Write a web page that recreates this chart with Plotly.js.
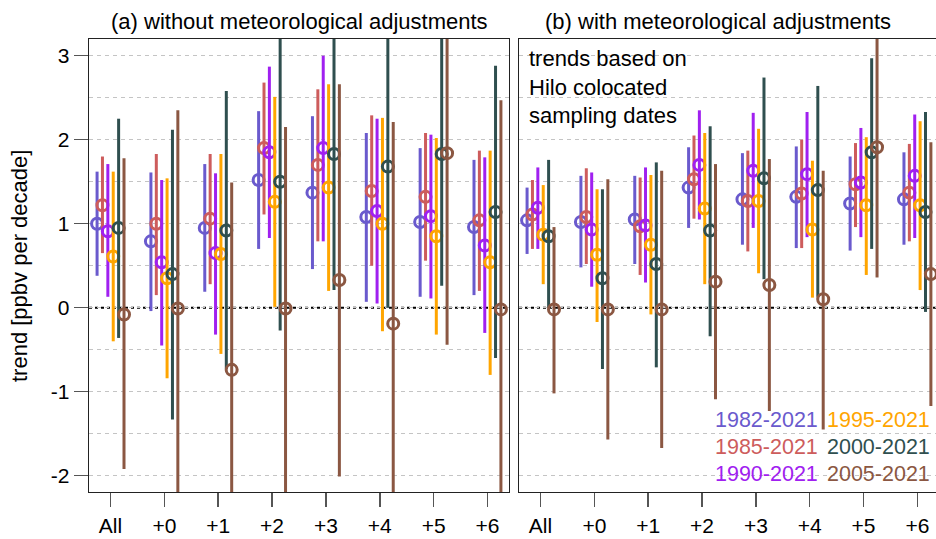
<!DOCTYPE html>
<html><head><meta charset="utf-8">
<script src="https://cdn.plot.ly/plotly-3.0.1.min.js"></script>
<style>html,body{margin:0;padding:0;background:#fff}#chart{width:936px;height:539px}</style>
</head><body><div id="chart"></div>
<script>
// ---------- data ----------
const groups = ['All', '+0', '+1', '+2', '+3', '+4', '+5', '+6'];
const periods = ['1982-2021', '1985-2021', '1990-2021', '1995-2021', '2000-2021', '2005-2021'];

// (a) without meteorological adjustments: trend, lower, upper
const a1982 = [1.00, 0.79, 0.95, 1.52, 1.37, 1.08, 1.02, 0.96];
const a1982Lo = [0.38, -0.04, 0.19, 0.70, 0.46, 0.07, 0.13, 0.15];
const a1982Hi = [1.62, 1.61, 1.71, 2.34, 2.28, 2.08, 1.90, 1.76];
const a1985 = [1.22, 1.00, 1.06, 1.90, 1.70, 1.39, 1.32, 1.04];
const a1985Lo = [0.65, 0.15, 0.28, 1.11, 0.79, 0.50, 0.56, 0.20];
const a1985Hi = [1.80, 1.83, 1.83, 2.68, 2.60, 2.29, 2.08, 1.87];
const a1990 = [0.91, 0.54, 0.65, 1.85, 1.90, 1.15, 1.09, 0.74];
const a1990Lo = [0.13, -0.45, -0.32, 0.83, 0.79, 0.05, 0.11, -0.30];
const a1990Hi = [1.71, 1.52, 1.60, 2.87, 3.00, 2.25, 2.06, 1.79];
const a1995 = [0.61, 0.35, 0.64, 1.26, 1.43, 1.00, 0.85, 0.54];
const a1995Lo = [-0.40, -0.84, -0.55, 0.01, 0.20, -0.28, -0.32, -0.80];
const a1995Hi = [1.62, 1.54, 1.83, 2.51, 2.66, 2.26, 2.02, 1.87];
const a2000 = [0.95, 0.40, 0.92, 1.50, 1.83, 1.68, 1.83, 1.14];
const a2000Lo = [-0.36, -1.33, -0.73, -0.27, 0.21, 0.00, 0.26, -0.60];
const a2000Hi = [2.25, 2.12, 2.58, 3.40, 3.45, 3.35, 3.40, 2.88];
const a2005 = [-0.08, -0.01, -0.74, -0.01, 0.33, -0.19, 1.84, -0.02];
const a2005Lo = [-1.92, -2.40, -2.40, -2.40, -2.01, -2.40, -0.44, -2.40];
const a2005Hi = [1.78, 2.35, 1.49, 2.15, 2.66, 2.21, 3.40, 2.47];

// (b) with meteorological adjustments: trend, lower, upper
const b1982 = [1.04, 1.02, 1.05, 1.43, 1.29, 1.32, 1.24, 1.29];
const b1982Lo = [0.64, 0.48, 0.52, 0.95, 0.75, 0.71, 0.68, 0.75];
const b1982Hi = [1.43, 1.57, 1.57, 1.91, 1.84, 1.92, 1.80, 1.85];
const b1985 = [1.11, 1.08, 0.97, 1.53, 1.27, 1.36, 1.47, 1.37];
const b1985Lo = [0.70, 0.52, 0.39, 1.06, 0.67, 0.71, 0.96, 0.79];
const b1985Hi = [1.52, 1.66, 1.55, 2.05, 1.87, 2.00, 1.96, 1.95];
const b1990 = [1.19, 0.93, 0.98, 1.70, 1.63, 1.59, 1.49, 1.57];
const b1990Lo = [0.70, 0.25, 0.30, 1.05, 0.95, 0.84, 0.84, 0.83];
const b1990Hi = [1.67, 1.61, 1.67, 2.35, 2.32, 2.33, 2.14, 2.30];
const b1995 = [0.87, 0.63, 0.75, 1.18, 1.27, 0.93, 1.22, 1.22];
const b1995Lo = [0.28, -0.17, -0.08, 0.28, 0.41, 0.12, 0.39, 0.21];
const b1995Hi = [1.46, 1.41, 1.58, 2.08, 2.13, 1.75, 2.03, 2.22];
const b2000 = [0.85, 0.35, 0.52, 0.92, 1.54, 1.40, 1.85, 1.14];
const b2000Lo = [0.00, -0.73, -0.71, -0.34, 0.34, 0.13, 0.70, -0.05];
const b2000Hi = [1.76, 1.41, 1.73, 2.16, 2.74, 2.64, 2.97, 2.33];
const b2005 = [-0.02, -0.02, -0.02, 0.31, 0.27, 0.10, 1.91, 0.40];
const b2005Lo = [-1.02, -1.57, -1.67, -1.09, -1.23, -1.45, 0.36, -1.17];
const b2005Hi = [0.96, 1.53, 1.63, 1.71, 1.77, 1.63, 3.40, 1.97];

const yTickVals = [-2, -1, 0, 1, 2, 3];
const yTickText = ['-2', '-1', '0', '1', '2', '3'];

// ---------- style ----------
const colors = ['#6A5ACD', '#CD5C5C', '#A020F0', '#FFA500', '#2F4F4F', '#8B5742'];
const offsets = [-0.25, -0.15, -0.05, 0.05, 0.15, 0.25];
const FONT = 'Liberation Sans, Arial, Helvetica, sans-serif';

const panelA = [[a1982, a1982Lo, a1982Hi], [a1985, a1985Lo, a1985Hi], [a1990, a1990Lo, a1990Hi],
                [a1995, a1995Lo, a1995Hi], [a2000, a2000Lo, a2000Hi], [a2005, a2005Lo, a2005Hi]];
const panelB = [[b1982, b1982Lo, b1982Hi], [b1985, b1985Lo, b1985Hi], [b1990, b1990Lo, b1990Hi],
                [b1995, b1995Lo, b1995Hi], [b2000, b2000Lo, b2000Hi], [b2005, b2005Lo, b2005Hi]];

const traces = [];
function addPanel(panel, xa, ya) {
  panel.forEach(([c, lo, hi], s) => {
    traces.push({
      type: 'scatter', mode: 'markers', xaxis: xa, yaxis: ya,
      name: periods[s], showlegend: false,
      x: c.map((_, i) => i + offsets[s]),
      y: c,
      error_y: {type: 'data', symmetric: false,
        array: c.map((v, i) => hi[i] - v),
        arrayminus: c.map((v, i) => v - lo[i]),
        width: 0, thickness: 3, color: colors[s]},
      marker: {symbol: 'circle-open', size: 11, color: colors[s], line: {width: 3, color: colors[s]}}
    });
  });
}
addPanel(panelA, 'x', 'y');
addPanel(panelB, 'x2', 'y2');

const W = 936, H = 539, MT = 39, MB = 47;
const PH = H - MT - MB;
// pixel -> paper coordinates (paper spans the plotting area; l = r = 0)
const px = v => v / W, py = v => (H - MB - v) / PH;

const yRange = [-2.194, 3.199];
const GRID = '#c4c4c4';
const gridCommon = {
  range: yRange, showgrid: true, gridcolor: GRID, gridwidth: 1.5, griddash: '4px,4px',
  zeroline: false, tickmode: 'array', tickvals: yTickVals,
  minor: {dtick: 0.5, tick0: 0, showgrid: true, gridcolor: GRID, gridwidth: 1.5, griddash: '4px,4px', ticks: ''},
  automargin: false, showline: true, linecolor: '#222', linewidth: 1.3
};
const xCommon = {
  tickmode: 'array', tickvals: groups.map((_, i) => i), ticktext: groups,
  ticks: 'outside', ticklen: 14, tickwidth: 1.5, tickcolor: '#555',
  showgrid: false, zeroline: false, showline: true, mirror: true,
  linecolor: '#222', linewidth: 1.3, automargin: false,
  tickfont: {family: FONT, size: 21, color: '#000'}
};

const annFont = (size, color) => ({family: FONT, size: size, color: color || '#000'});
const annotations = [
  {text: '(a) without meteorological adjustments', xref: 'paper', yref: 'paper',
   x: px(299), y: py(21), xanchor: 'center', yanchor: 'middle', showarrow: false, font: annFont(22)},
  {text: '(b) with meteorological adjustments', xref: 'paper', yref: 'paper',
   x: px(718), y: py(21), xanchor: 'center', yanchor: 'middle', showarrow: false, font: annFont(22)},
  {text: 'trend [ppbv per decade]', xref: 'paper', yref: 'paper', textangle: -90,
   x: px(19), y: py(266), xanchor: 'center', yanchor: 'middle', showarrow: false, font: annFont(22)},
  {text: 'trends based on<br>Hilo colocated<br>sampling dates', xref: 'paper', yref: 'paper',
   x: px(527), y: py(44), xanchor: 'left', yanchor: 'top', align: 'left', showarrow: false, font: annFont(22)}
];
const legPos = [[713, 420], [713, 447], [713, 474], [825, 420], [825, 447], [825, 474]];
periods.forEach((p, s) => {
  annotations.push({text: p, xref: 'paper', yref: 'paper', x: px(legPos[s][0]), y: py(legPos[s][1]),
    xanchor: 'left', yanchor: 'middle', showarrow: false, font: annFont(21.5, colors[s])});
});

const layout = {
  width: W, height: H, margin: {l: 0, r: 0, t: MT, b: MB},
  paper_bgcolor: '#fff', plot_bgcolor: '#fff', showlegend: false,
  font: {family: FONT, size: 20, color: '#000'},
  xaxis: Object.assign({}, xCommon, {domain: [px(89), px(509)], range: [-0.4, 7.4], anchor: 'y'}),
  xaxis2: Object.assign({}, xCommon, {domain: [px(519), 1], range: [-0.4, 7.345], anchor: 'y2'}),
  yaxis: Object.assign({}, gridCommon, {domain: [0, 1], anchor: 'x', mirror: true, ticktext: yTickText,
    ticks: 'outside', ticklen: 14, tickwidth: 1.5, tickcolor: '#555',
    tickfont: {family: FONT, size: 21, color: '#000'}}),
  yaxis2: Object.assign({}, gridCommon, {domain: [0, 1], anchor: 'x2', mirror: false,
    showticklabels: false, ticks: ''}),
  shapes: [
    {type: 'line', xref: 'x domain', yref: 'y', x0: 0, x1: 1, y0: 0, y1: 0, layer: 'below', line: {color: '#fff', width: 2}},
    {type: 'line', xref: 'x domain', yref: 'y', x0: 0, x1: 1, y0: 0, y1: 0, layer: 'below', line: {color: '#000', width: 2, dash: 'dot'}},
    {type: 'line', xref: 'x2 domain', yref: 'y2', x0: 0, x1: 1, y0: 0, y1: 0, layer: 'below', line: {color: '#fff', width: 2}},
    {type: 'line', xref: 'x2 domain', yref: 'y2', x0: 0, x1: 1, y0: 0, y1: 0, layer: 'below', line: {color: '#000', width: 2, dash: 'dot'}}
  ],
  annotations: annotations
};

Plotly.newPlot('chart', traces, layout, {displayModeBar: false, staticPlot: true});
</script>
</body></html>
